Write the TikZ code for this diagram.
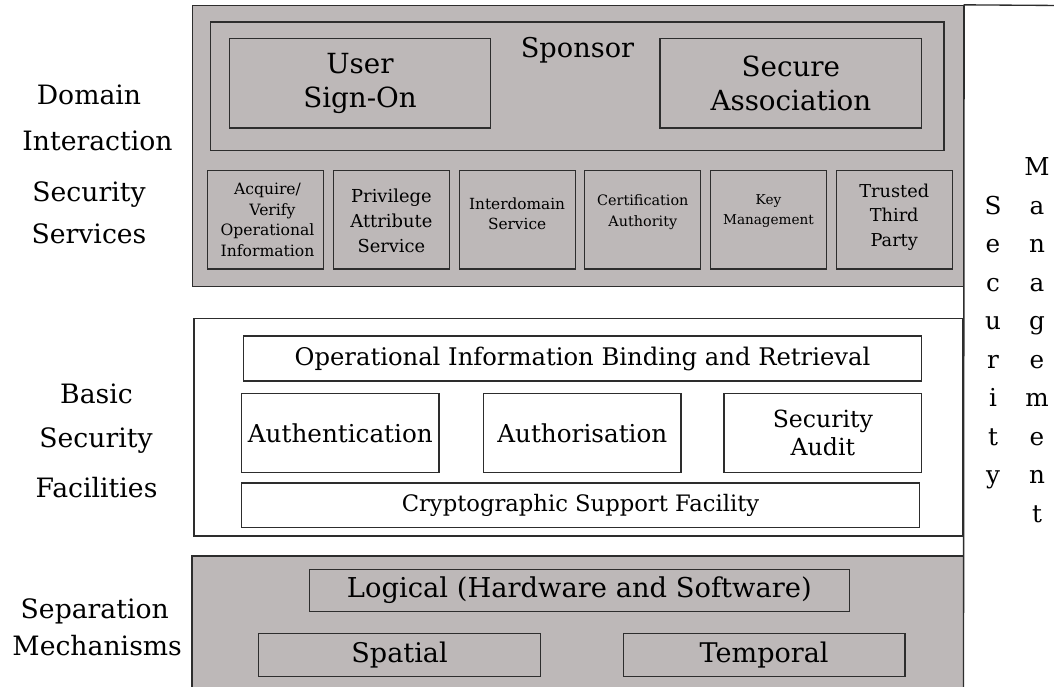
\documentclass[tikz,border=0pt]{standalone}
\usepackage{fontspec}
\setmainfont{DejaVu Serif}
\definecolor{panelgrey}{RGB}{189,184,184}
\definecolor{edgecol}{RGB}{45,45,45}
\newlength\pxu
\setlength\pxu{0.75pt}
\newcommand\myfs[2]{\fontsize{#1pt}{#2pt}\selectfont}
\begin{document}
\begin{tikzpicture}[x=0.75pt,y=-0.75pt,
  sized/.style 2 args={minimum width=#1\pxu, minimum height=#2\pxu},
  panel/.style={draw=edgecol,line width=1pt,fill=panelgrey,rectangle,inner sep=0pt},
  whitepanel/.style={draw=edgecol,line width=1pt,fill=white,rectangle,inner sep=0pt},
  box/.style={draw=edgecol,line width=0.8pt,rectangle,inner sep=0pt,align=center},
  lbl/.style={inner sep=0pt,anchor=base},
  small/.style={box,sized={116}{98.3}},
]
\useasboundingbox (0,0) rectangle (1054,686);
\fill[white] (0,0) rectangle (1054,686);

% panels
\node[panel,sized={771}{281}] (dom) at (578,146) {};
\node[whitepanel,sized={769}{217.5}] (bsf) at (578.5,427.25) {};
\node[panel,sized={771.5}{134}] (sep) at (577.75,623) {};

% security management column
\coordinate (mtr) at (1060,5.5);
\coordinate (mbl) at (963.5,690);
\draw[draw=edgecol,line width=1pt] (mtr) -- (dom.north east) -- (mbl);

% domain interaction security services
\node[box,sized={733.3}{128.7}] (sponsor) at (577.35,86.35) {};
\node[lbl,font=\myfs{20.4}{24}] (sponsortxt) at (577.5,57.3) {Sponsor};
\node[box,sized={261.4}{89.7},font=\myfs{20.8}{25.5}] (uso) at (360,83.15) {User\\Sign-On};
\node[box,sized={261.7}{89.7},font=\myfs{20.8}{25.5}] (sa) at (790.85,83.15) {Secure\\Association};

\node[small] (s1) at (265.7,219.85) {};
\node[small] (s2) at (391.4,219.85) {};
\node[small] (s3) at (517.1,219.85) {};
\node[small] (s4) at (642.8,219.85) {};
\node[small] (s5) at (768.5,219.85) {};
\node[small] (s6) at (894.2,219.85) {};

\node[align=center,inner sep=0pt,font=\myfs{11.7}{15.4}] (t1) at (267.5,220) {Acquire/\\\ \ Verify\\Operational\\Information};
\node[align=center,inner sep=0pt,font=\myfs{13.4}{18.5}] (t2) at (391.4,221) {Privilege\\Attribute\\Service};
\node[align=center,inner sep=0pt,font=\myfs{11.5}{15}] (t3) at (517.1,214) {Interdomain\\Service};
\node[align=center,inner sep=0pt,font=\myfs{10.8}{16}] (t4) at (642.8,212) {Certification\\Authority};
\node[align=center,inner sep=0pt,font=\myfs{10.2}{15}] (t5) at (768.5,211.5) {Key\\Management};
\node[align=center,inner sep=0pt,font=\myfs{13.3}{18.5}] (t6) at (894.2,217) {Trusted\\Third\\Party};

% basic security facilities
\node[box,sized={678.4}{45},font=\myfs{18.2}{22}] (oib) at (582.5,358.5) {Operational Information Binding and Retrieval};
\node[box,sized={197.3}{79.4},font=\myfs{18.5}{22}] (authn) at (340.35,433) {Authentication};
\node[box,sized={197.3}{79.4},font=\myfs{18.5}{22}] (authz) at (582.35,433) {Authorisation};
\node[box,sized={197.7}{79.4},font=\myfs{17.7}{21}] (audit) at (822.85,433) {Security\\Audit};
\node[box,sized={677.6}{44.7},font=\myfs{17}{21}] (crypto) at (580.5,505.35) {Cryptographic Support Facility};

% separation mechanisms
\node[box,sized={539.8}{42.3},font=\myfs{20.5}{24}] (logical) at (579.4,590.2) {Logical (Hardware and Software)};
\node[box,sized={282}{43},font=\myfs{20.3}{24}] (spatial) at (399.6,655.2) {Spatial};
\node[box,sized={281.7}{43},font=\myfs{20.3}{24}] (temporal) at (764.15,655.2) {Temporal};

% left labels
\begin{scope}[font=\myfs{20}{24}]
\node[lbl] (l1) at (89,104.3) {Domain};
\node[lbl] (l2) at (97.5,150) {Interaction};
\node[lbl] (l3) at (89,201.7) {Security};
\node[lbl] (l4) at (89,243) {Services};
\node[lbl] (l5) at (96.5,403) {Basic};
\node[lbl] (l6) at (96,447) {Security};
\node[lbl] (l7) at (96.5,497) {Facilities};
\node[lbl] (l8) at (94.8,618.5) {Separation};
\node[lbl] (l9) at (97.2,655) {Mechanisms};
\end{scope}

% vertical security management
\begin{scope}[font=\myfs{18.5}{22}]
\foreach \ch [count=\i] in {S,e,c,u,r,i,t,y}
  \node[lbl] (sec\i) at (993,214+38.5*\i-38.5) {\ch};
\foreach \ch [count=\i] in {M,a,n,a,g,e,m,e,n,t}
  \node[lbl] (man\i) at (1037,175.5+38.5*\i-38.5) {\ch};
\end{scope}
\end{tikzpicture}
\end{document}
